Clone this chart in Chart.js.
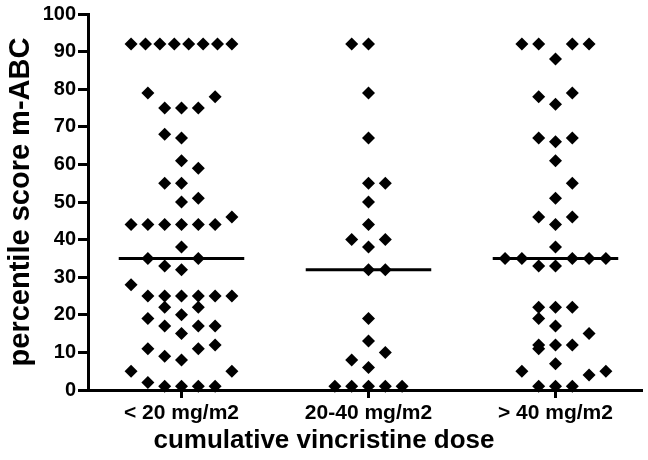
<!DOCTYPE html>
<html>
<head>
<meta charset="utf-8">
<script src="https://cdn.jsdelivr.net/npm/chart.js@4/dist/chart.umd.min.js"></script>
<style>
  html, body { margin: 0; padding: 0; background: #ffffff; }
  #wrap { width: 648px; height: 460px; }
</style>
</head>
<body>
<div id="wrap"><canvas id="chart" width="648" height="460"></canvas></div>
<script>
// ---------------- data ----------------
const categories = ['< 20 mg/m2', '20-40 mg/m2', '> 40 mg/m2'];

// percentile scores per dose group (raw order)
const lowDose = [5, 2, 1, 1, 1, 1, 5, 11, 9, 8, 11, 12, 19, 17, 15, 17, 17, 22, 20, 22,
  28, 25, 25, 25, 25, 25, 25, 35, 33, 32, 35, 38, 44, 44, 44, 44, 44, 44, 46, 50, 51,
  55, 55, 59, 61, 68, 67, 79, 75, 75, 75, 78, 92, 92, 92, 92, 92, 92, 92, 92];
const midDose = [1, 1, 1, 1, 1, 8, 6, 10, 13, 19, 32, 32, 40, 38, 40, 44, 50, 55, 55, 67, 79, 92, 92];
const highDose = [5, 1, 1, 1, 4, 5, 11, 7, 12, 12, 12, 15, 19, 17, 22, 22, 22,
  35, 35, 33, 33, 35, 35, 35, 38, 46, 44, 46, 51, 55, 61, 67, 66, 67, 78, 76, 79, 92, 92, 88, 92, 92];

const yTicks = [0, 10, 20, 30, 40, 50, 60, 70, 80, 90, 100];
const xTitle = 'cumulative vincristine dose';
const yTitle = 'percentile score m-ABC';

// ---------------- layout helpers ----------------
const X_MIN = 0.5, X_MAX = 3.46;
const PLOT_W = 648 - 88;
const PX_PER_X = PLOT_W / (X_MAX - X_MIN);
const SLOT = 17 / PX_PER_X;        // horizontal spacing of side-by-side symbols
const MEDIAN_HALF = 63.5 / PX_PER_X;
const ROW_SPAN = 4;                 // values this close share a row in the column scatter
const MAX_SLOTS = 7;

function swarmSlots(values) {
  const order = values.map((v, i) => i).sort((a, b) => values[a] - values[b] || a - b);
  const slots = new Array(values.length);
  let k = 0, rowNo = 0;
  while (k < order.length) {
    const start = values[order[k]];
    const row = [];
    while (k < order.length && values[order[k]] <= start + ROW_SPAN) row.push(order[k++]);
    rowNo++;
    row.sort((a, b) => a - b);
    const n = row.length;
    row.forEach((idx, j) => {
      let s;
      if (n > MAX_SLOTS) s = -(MAX_SLOTS - 1) / 2 + j * (MAX_SLOTS - 1) / (n - 1);
      else if (n % 2) s = j - (n - 1) / 2;
      else s = j - n / 2 + (rowNo % 2 ? 1 : 0);
      slots[idx] = s;
    });
  }
  return slots;
}

function median(a) {
  const s = [...a].sort((p, q) => p - q);
  const m = s.length >> 1;
  return s.length % 2 ? s[m] : (s[m - 1] + s[m]) / 2;
}

const groups = [lowDose, midDose, highDose];
const pointSets = groups.map((vals, g) => {
  const slots = swarmSlots(vals);
  return {
    type: 'scatter',
    data: vals.map((v, i) => ({ x: g + 1 + slots[i] * SLOT, y: v })),
    pointStyle: 'rectRot',
    pointRadius: 6.5,
    pointHoverRadius: 6.5,
    backgroundColor: '#000000',
    borderColor: '#000000',
    borderWidth: 0,
    showLine: false,
    clip: false
  };
});
const medianSets = groups.map((vals, g) => {
  const m = median(vals);
  return {
    type: 'line',
    data: [{ x: g + 1 - MEDIAN_HALF, y: m }, { x: g + 1 + MEDIAN_HALF, y: m }],
    borderColor: '#000000',
    borderWidth: 3,
    pointRadius: 0,
    fill: false,
    clip: false
  };
});

const FONT = "Arial, 'Liberation Sans', sans-serif";
Chart.defaults.font.family = FONT;
Chart.defaults.font.weight = 'bold';
Chart.defaults.color = '#000000';

const TITLE_SIZE = 26, TITLE_PAD = 4;
const TITLE_BOX = TITLE_SIZE * 1.2 + TITLE_PAD;

new Chart(document.getElementById('chart').getContext('2d'), {
  type: 'scatter',
  data: { datasets: [...medianSets, ...pointSets] },
  options: {
    responsive: false,
    animation: false,
    devicePixelRatio: 1,
    layout: { padding: { top: 12, right: 0, bottom: 0, left: 0 } },
    plugins: {
      legend: { display: false },
      tooltip: { enabled: false },
      title: {
        display: true,
        text: xTitle,
        position: 'bottom',
        color: '#000000',
        font: { size: TITLE_SIZE, weight: 'bold', family: FONT },
        padding: { top: 0, bottom: TITLE_PAD }
      }
    },
    scales: {
      x: {
        type: 'linear',
        min: X_MIN,
        max: X_MAX,
        afterBuildTicks: s => { s.ticks = categories.map((c, i) => ({ value: i + 1 })); },
        afterFit: s => { s.height = 70 - TITLE_BOX; },
        ticks: {
          callback: v => categories[Math.round(v) - 1] || '',
          font: { size: 21, weight: 'bold', family: FONT },
          color: '#000000',
          padding: 3,
          maxRotation: 0,
          autoSkip: false
        },
        grid: { drawOnChartArea: false, drawTicks: true, tickLength: 8, color: '#000000', lineWidth: 3 },
        border: { display: true, color: '#000000', width: 3 }
      },
      y: {
        min: 0,
        max: 100,
        afterBuildTicks: s => { s.ticks = yTicks.map(v => ({ value: v })); },
        afterFit: s => { s.width = 88; },
        ticks: {
          font: { size: 20, weight: 'bold', family: FONT },
          color: '#000000',
          padding: 2
        },
        grid: { drawOnChartArea: false, drawTicks: true, tickLength: 10, color: '#000000', lineWidth: 3 },
        border: { display: true, color: '#000000', width: 3 },
        title: {
          display: true, text: yTitle, color: '#000000',
          font: { size: 29, weight: 'bold', family: FONT },
          padding: { top: 4, bottom: 0 }
        }
      }
    }
  }
});
</script>
</body>
</html>
